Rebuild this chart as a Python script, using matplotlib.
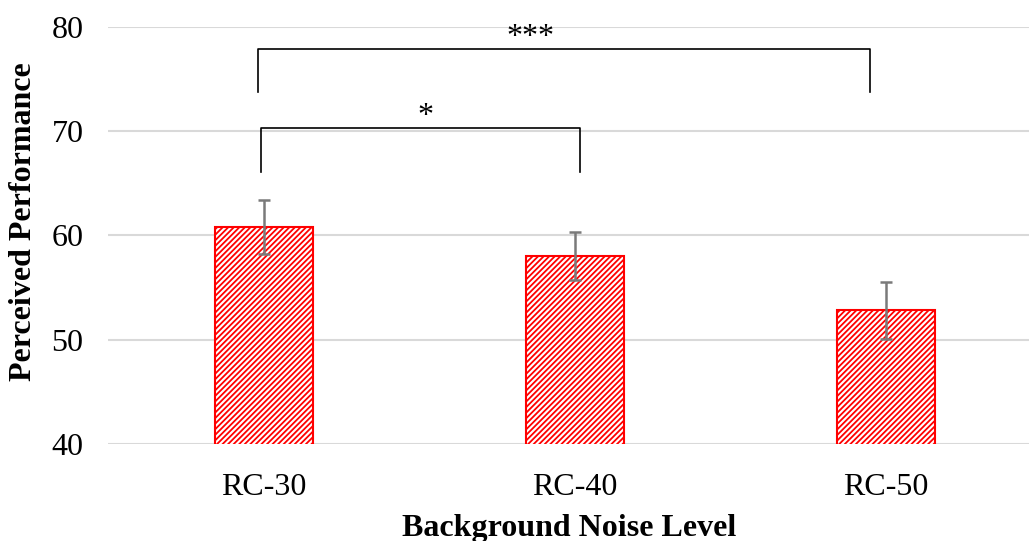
import numpy as np
import matplotlib
matplotlib.use('Agg')
import matplotlib.pyplot as plt

# data
categories = ['RC-30', 'RC-40', 'RC-50']
means = [60.8, 58.0, 52.8]
errors = [2.55, 2.3, 2.7]

# significance brackets: (left x, right x, top y, leg bottom y, label, label x)
brackets = [
    (-0.02, 1.95, 77.9, 73.7, '***', 0.857),
    (-0.01, 1.015, 70.3, 66.1, '*', 0.52),
]

plt.rcParams['font.family'] = ['Liberation Serif', 'DejaVu Serif']
plt.rcParams['hatch.linewidth'] = 1.3
plt.rcParams['hatch.color'] = 'red'

fig = plt.figure(figsize=(10.29, 5.41), dpi=100)
ax = fig.add_axes([0.1054, 0.1795, 0.8946, 0.7712])

x = np.arange(len(categories))
ax.bar(x, means, width=0.315, color='white', edgecolor='red',
       linewidth=1.5, hatch='//////', zorder=3)
ax.errorbar(x, means, yerr=errors, fmt='none', ecolor='#7a7a7a',
            elinewidth=1.8, capsize=4.3, capthick=1.8, zorder=4)

for x0, x1, ytop, ybot, label, lx in brackets:
    ax.plot([x0, x0, x1, x1], [ybot, ytop, ytop, ybot], color='black',
            linewidth=1.2, zorder=5, clip_on=False)
    ax.text(lx, ytop - 0.3, label, ha='center', va='bottom', fontsize=23)

ax.set_xlim(-0.5, 2.46)
ax.set_ylim(40, 80)
ax.set_yticks([40, 50, 60, 70, 80])
ax.set_xticks(x)
ax.set_xticklabels(categories)
ax.grid(axis='y', color='#d9d9d9', linewidth=1.5, zorder=0)
ax.set_axisbelow(True)
for s in ax.spines.values():
    s.set_visible(False)
ax.tick_params(axis='both', length=0, labelsize=23, colors='black')
ax.tick_params(axis='y', pad=18)
ax.tick_params(axis='x', pad=21)

ax.set_xlabel('Background Noise Level', fontsize=23, fontweight='bold')
ax.xaxis.set_label_coords(0.5, -0.167)
ax.set_ylabel('Perceived Performance', fontsize=23, fontweight='bold')
ax.yaxis.set_label_coords(-0.076, 0.532)

fig.savefig('out.png', dpi=100)
